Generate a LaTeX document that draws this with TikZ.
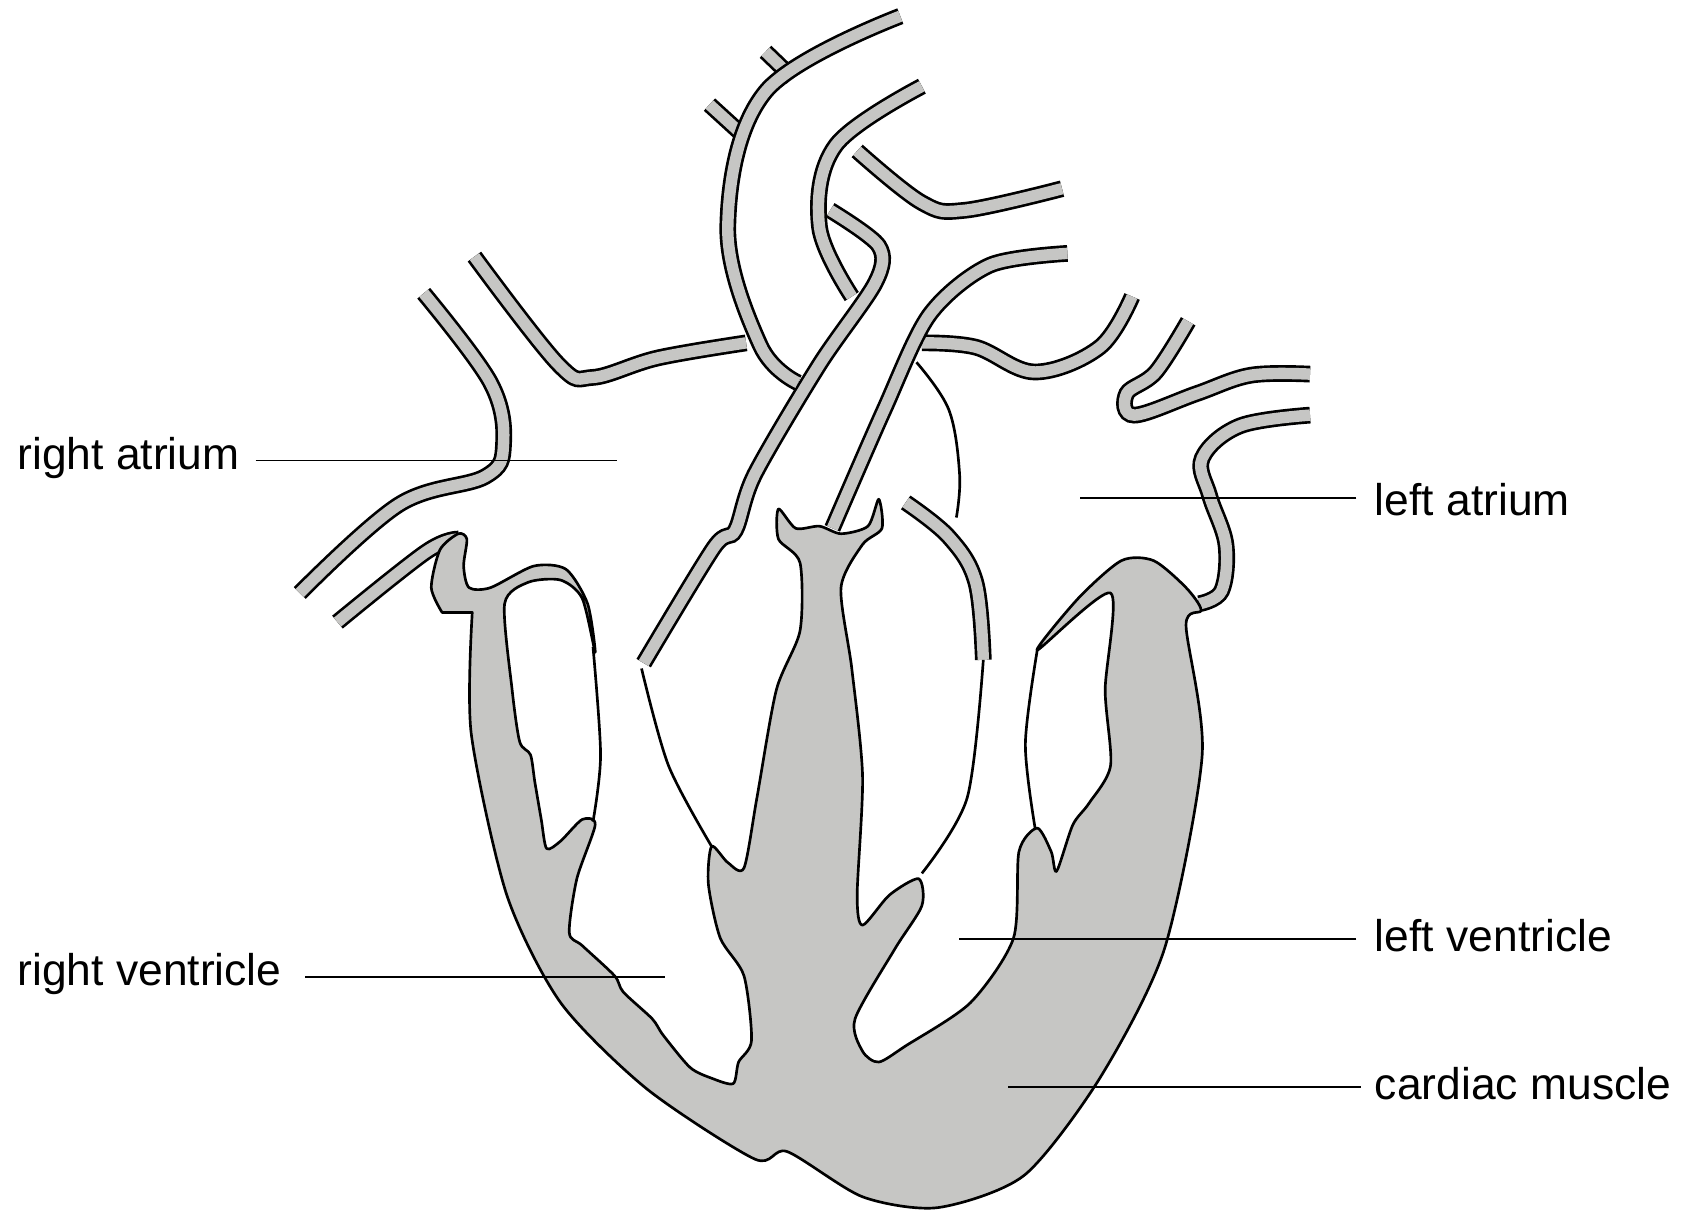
\documentclass[tikz,border=0pt]{standalone}
\usepackage{fontspec}
\setmainfont{Liberation Sans}
\definecolor{mus}{RGB}{198,198,196}
\begin{document}
\begin{tikzpicture}[x=0.85pt,y=-0.85pt,
  vessel/.style={line width=2.1pt,double=mus,double distance=9pt},
  wall/.style={line width=2.1pt,line join=round},
  lab/.style={font=\fontsize{35}{40}\selectfont,anchor=west,inner sep=0pt},
  lead/.style={line width=1.3pt}]
\useasboundingbox (0,0) rectangle (1560,1130);
% vessels
\draw[vessel] plot[smooth] coordinates {(710,48) (735,72)};
\draw[vessel] plot[smooth] coordinates {(658,97) (692,128)};
\draw[vessel] plot[smooth,tension=0.6] coordinates {(795,140) (855,188) (895,195) (985,175)};
\draw[vessel] plot[smooth,tension=0.6] coordinates {(855,318) (905,322) (960,345) (1020,322) (1050,275)};
\draw[vessel] plot[smooth,tension=0.6] coordinates {(855,80) (775,135) (760,210) (790,275)};
\draw[vessel] plot[smooth,tension=0.5] coordinates {(770,195) (815,228) (812,262) (760,338) (700,440) (682,492) (662,508) (597,615)};
\draw[vessel] plot[smooth,tension=0.6] coordinates {(835,15) (710,85) (675,210) (705,320) (740,355)};
\draw[vessel] plot[smooth,tension=0.5] coordinates {(990,235) (918,246) (862,292) (820,380) (772,490)};
\draw[vessel] plot[smooth,tension=0.6] coordinates {(440,238) (518,338) (550,350) (610,332) (692,318)};
\draw[vessel] plot[smooth,tension=0.6] coordinates {(393,272) (455,355) (467,412) (450,442) (370,468) (278,550)};
\draw[vessel] plot[smooth,tension=0.6] coordinates {(313,577) (395,512) (425,500)};
\draw[vessel] plot[smooth,tension=0.6] coordinates {(1102,298) (1072,345) (1045,365) (1052,385) (1110,365) (1160,348) (1215,347)};
\draw[vessel] plot[smooth,tension=0.6] coordinates {(1215,385) (1150,395) (1115,425) (1122,460) (1137,505) (1133,548) (1112,560)};
\draw[vessel] plot[smooth,tension=0.6] coordinates {(840,466) (880,498) (905,540) (912,612)};
\draw[wall] plot[smooth,tension=0.6] coordinates {(850,336) (880,380) (890,440) (887,480)};
% muscle
\draw[wall,fill=mus] plot[smooth,tension=0.45] coordinates {
(438,568) (437,680) (470,830) (520,930) (600,1010) (700,1075) (730,1068) (800,1110) (870,1120) (950,1090) (1020,1000) (1080,880) (1115,700) (1100,580) (1114,566)
(1100,545) (1070,520) (1040,520) (1000,555) (962,603) (1030,550) (1025,640) (1030,710) (1010,745) (995,765) (980,808) (975,790) (962,768) (945,790) (940,870) (900,930) (840,970) (815,985) (800,975) (793,945) (830,880) (855,840) (852,815) (825,830) (800,858) (795,830) (800,720) (790,620) (780,545) (800,505) (818,490) (815,463) (805,488) (780,495) (760,488) (738,490) (722,472) (722,500) (742,522) (742,585) (720,640) (702,740) (690,805) (675,800) (660,785) (657,820) (668,870) (690,905) (697,965) (685,985) (680,1005) (660,1000) (640,990) (615,960) (605,945) (578,920) (570,905) (540,877) (528,865) (535,815) (552,765) (540,760) (520,780) (507,787) (502,760) (496,725) (492,700) (482,688) (475,640) (468,560) (490,540) (520,538) (540,555) (552,605) (545,560) (525,528) (495,525) (455,545) (435,545) (430,525) (433,500) (425,495) (408,510) (400,545) (410,568)} -- cycle;
% chordae and leaflets
\draw[wall] plot[smooth] coordinates {(550,600) (557,700) (550,762)};
\draw[wall] plot[smooth] coordinates {(962,603) (951,690) (960,768)};
\draw[wall] plot[smooth] coordinates {(595,620) (620,710) (660,785)};
\draw[wall] plot[smooth] coordinates {(912,612) (897,740) (855,810)};
% labels
\node[lab] (ra) at (16,425) {right atrium};
\coordinate (rae) at (572,427);
\draw[lead] (237,427) -- (rae);
\node[lab] (la) at (1275,463) {left atrium};
\coordinate (lae) at (1002,462);
\draw[lead] (1258,462) -- (lae);
\node[lab] (rv) at (16,903) {right ventricle};
\coordinate (rve) at (617,906);
\draw[lead] (283,906) -- (rve);
\node[lab] (lv) at (1275,868) {left ventricle};
\coordinate (lve) at (889,871);
\draw[lead] (1258,871) -- (lve);
\node[lab] (cm) at (1275,1005) {cardiac muscle};
\coordinate (cme) at (935,1008);
\draw[lead] (1262,1008) -- (cme);
\end{tikzpicture}
\end{document}
